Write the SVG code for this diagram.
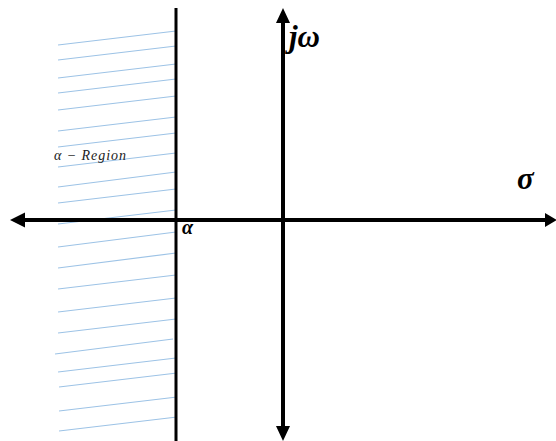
<svg xmlns="http://www.w3.org/2000/svg" width="556" height="441" viewBox="0 0 556 441">
<style>
.hatch{stroke:#9DC3E6;stroke-width:1.2;fill:none}
.axis{stroke:#000;stroke-width:4;fill:none}
.math{font-family:"Liberation Serif","DejaVu Serif",serif;font-style:italic;font-weight:bold;fill:#000}
.lbl{font-family:"Liberation Serif","DejaVu Serif",serif;font-style:italic;fill:#222}
</style>
<rect width="556" height="441" fill="#fff"/>
<g id="hatching">
<line class="hatch" x1="58" y1="45" x2="176" y2="31"/>
<line class="hatch" x1="58" y1="60" x2="176" y2="46"/>
<line class="hatch" x1="58" y1="78" x2="176" y2="64"/>
<line class="hatch" x1="58" y1="93" x2="176" y2="79"/>
<line class="hatch" x1="58" y1="110" x2="176" y2="96"/>
<line class="hatch" x1="58" y1="131" x2="176" y2="117"/>
<line class="hatch" x1="58" y1="147" x2="176" y2="133"/>
<line class="hatch" x1="58" y1="167" x2="176" y2="153"/>
<line class="hatch" x1="58" y1="187" x2="176" y2="172"/>
<line class="hatch" x1="58" y1="203" x2="176" y2="189"/>
<line class="hatch" x1="58" y1="224" x2="176" y2="210"/>
<line class="hatch" x1="58" y1="247" x2="176" y2="232"/>
<line class="hatch" x1="58" y1="268" x2="176" y2="253"/>
<line class="hatch" x1="58" y1="289" x2="176" y2="275"/>
<line class="hatch" x1="58" y1="312" x2="176" y2="298"/>
<line class="hatch" x1="58" y1="333" x2="176" y2="319"/>
<line class="hatch" x1="55" y1="354" x2="173" y2="339"/>
<line class="hatch" x1="58" y1="372" x2="176" y2="358"/>
<line class="hatch" x1="59" y1="387" x2="177" y2="373"/>
<line class="hatch" x1="59" y1="411" x2="177" y2="397"/>
<line class="hatch" x1="59" y1="431" x2="177" y2="417"/>
</g>
<g id="connectors">
<line id="alpha-line" x1="176" y1="8" x2="176" y2="441" stroke="#000" stroke-width="3"/>
<line id="sigma-axis" class="axis" x1="22" y1="220" x2="546" y2="220"/>
<polygon points="10,220 25,212.5 25,227.5" fill="#000"/>
<polygon points="557,220 545,213 545,227" fill="#000"/>
<line id="jw-axis" class="axis" x1="283" y1="20" x2="283" y2="428"/>
<polygon points="283,8 276,23 290,23" fill="#000"/>
<polygon points="283,441 276,426 290,426" fill="#000"/>
</g>
<g id="label-jw"><text class="math" x="289" y="47" font-size="31">jω</text></g>
<g id="label-sigma"><text class="math" x="517" y="189" font-size="31">σ</text></g>
<g id="label-alpha"><text class="math" x="182" y="234" font-size="20">α</text></g>
<g id="label-region"><text class="lbl" x="54" y="160" font-size="14" textLength="72" lengthAdjust="spacing">α − Region</text></g>
</svg>
